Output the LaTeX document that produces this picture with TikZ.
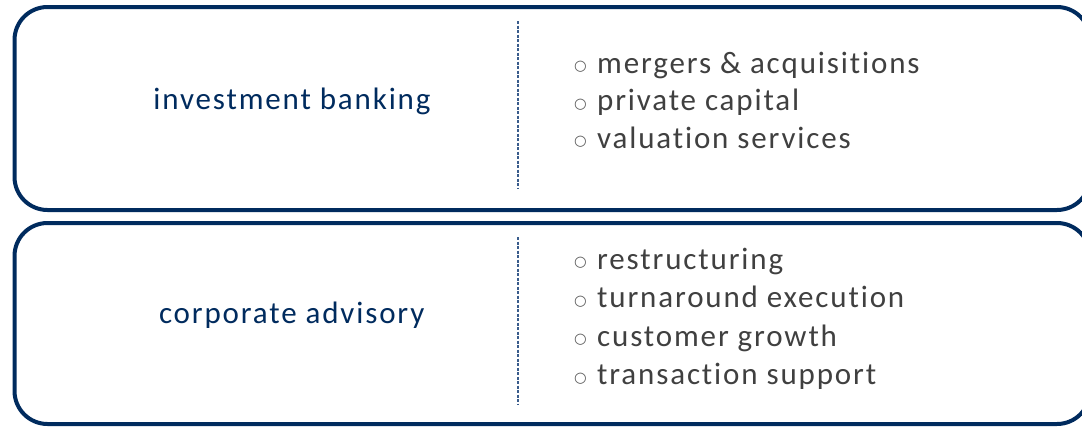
\documentclass[tikz,border=0pt]{standalone}
\usepackage{fontspec}
\setmainfont{Carlito}[LetterSpace=6,Ligatures={NoCommon}]
\newfontfamily\bulletfont{DejaVu Sans}
\definecolor{navy}{RGB}{0,43,94}
\definecolor{dashblue}{RGB}{58,92,140}
\definecolor{itemgray}{RGB}{64,64,64}
\definecolor{bulletgray}{RGB}{90,90,90}
\begin{document}
\begin{tikzpicture}[x=1pt,y=-1pt,
  panel/.style={draw=navy,line width=4pt,rounded corners=33pt,inner sep=0pt},
  divider/.style={draw=dashblue,line width=1.8pt,dash pattern=on 3pt off 1.5pt},
  label/.style={text=navy,font=\fontsize{31}{38}\selectfont,inner sep=0pt,anchor=base},
  item/.style={text=itemgray,font=\fontsize{31}{38}\selectfont,inner sep=0pt,anchor=base west},
  bullet/.style={text=bulletgray,font=\bulletfont\fontsize{14.5}{16}\selectfont,inner sep=0pt,anchor=base}]
\useasboundingbox (0,0) rectangle (1082,426);
\clip (0,0) rectangle (1082,426);
\fill[white] (0,0) rectangle (1082,426);
% panels
\draw[panel] (14.5,7) rectangle (1090,210);
\draw[panel] (14.5,223) rectangle (1090,424);
% dividers
\coordinate (d1a) at (518,21);
\coordinate (d1b) at (518,188);
\coordinate (d2a) at (518,237);
\coordinate (d2b) at (518,405);
\draw[divider] (d1a) -- (d1b);
\draw[divider] (d2a) -- (d2b);
% left labels
\node[label] (ib) at (292,109.3) {investment banking};
\node[label] (ca) at (291.7,323.3) {corporate advisory};
% right items, top
\foreach \t [count=\i] in {mergers \& acquisitions, private capital, valuation services}{
  \node[bullet] (bt\i) at (580.5,{73+37.6*(\i-1)-2.5}) {○};
  \node[item] (it\i) at (597,{73+37.6*(\i-1)}) {\t};
}
% right items, bottom
\foreach \t [count=\i] in {restructuring, turnaround execution, customer growth, transaction support}{
  \node[bullet] (bb\i) at (580.5,{269+38.5*(\i-1)-2.5}) {○};
  \node[item] (ib\i) at (597,{269+38.5*(\i-1)}) {\t};
}
\end{tikzpicture}
\end{document}
